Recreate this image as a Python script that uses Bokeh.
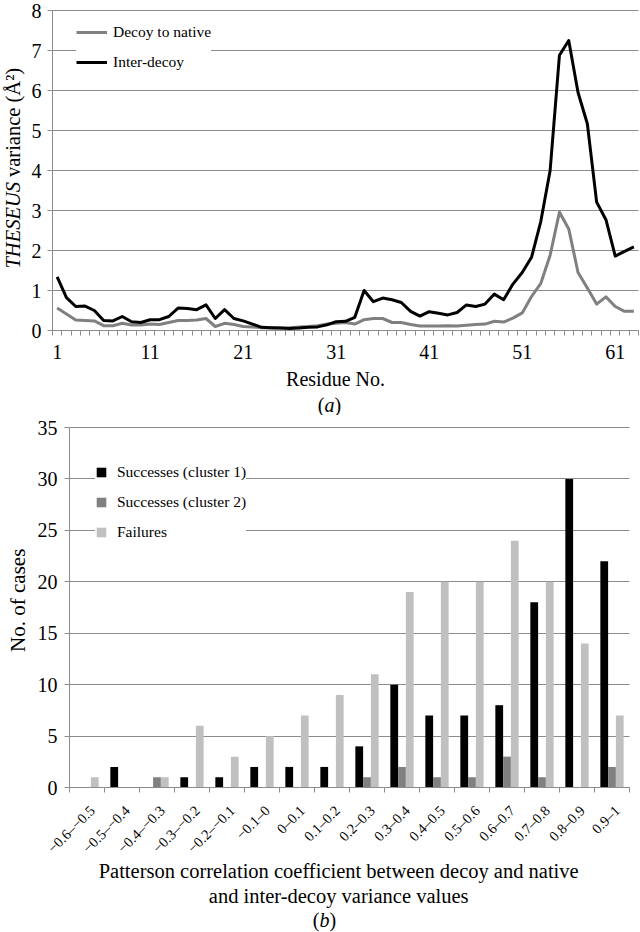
import math

from bokeh.core.properties import value
from bokeh.embed import file_html
from bokeh.layouts import column
from bokeh.models import (ColumnDataSource, FixedTicker, Grid, Label, Legend, LegendItem,
                          LinearAxis, Range1d)
from bokeh.plotting import figure
from bokeh.resources import INLINE

SERIF = "Liberation Serif"
AXIS_GREY = "#8c8c8c"

# ---------------- (a) THESEUS variance per residue ----------------
residues = list(range(1, 64))
decoy_to_native = [
    0.56, 0.41, 0.26, 0.25, 0.24, 0.12, 0.12, 0.18, 0.14, 0.14,
    0.16, 0.15, 0.20, 0.25, 0.25, 0.26, 0.30, 0.10, 0.18, 0.15,
    0.10, 0.09, 0.07, 0.06, 0.06, 0.07, 0.09, 0.10, 0.12, 0.16,
    0.18, 0.20, 0.16, 0.27, 0.30, 0.30, 0.20, 0.20, 0.15, 0.11,
    0.11, 0.11, 0.12, 0.11, 0.13, 0.15, 0.16, 0.23, 0.21, 0.31,
    0.44, 0.85, 1.18, 1.88, 2.96, 2.54, 1.45, 1.06, 0.66, 0.84,
    0.60, 0.48, 0.48,
]
inter_decoy = [
    1.34, 0.82, 0.60, 0.61, 0.50, 0.25, 0.24, 0.35, 0.22, 0.20,
    0.27, 0.27, 0.35, 0.56, 0.55, 0.52, 0.64, 0.30, 0.52, 0.30,
    0.24, 0.16, 0.08, 0.07, 0.06, 0.05, 0.06, 0.08, 0.09, 0.14,
    0.22, 0.23, 0.33, 1.00, 0.72, 0.81, 0.77, 0.70, 0.48, 0.36,
    0.47, 0.43, 0.39, 0.45, 0.64, 0.60, 0.66, 0.91, 0.77, 1.16,
    1.45, 1.83, 2.73, 4.00, 6.88, 7.25, 5.95, 5.17, 3.21, 2.77,
    1.86, 1.98, 2.09,
]
residue_tick_values = [1, 11, 21, 31, 41, 51, 61]
variance_ticks = [0, 1, 2, 3, 4, 5, 6, 7, 8]

# ---------------- (b) correlation histogram ----------------
bins = [
    "\u22120.6\u2013\u22120.5", "\u22120.5\u2013\u22120.4", "\u22120.4\u2013\u22120.3",
    "\u22120.3\u2013\u22120.2", "\u22120.2\u2013\u22120.1", "\u22120.1\u20130",
    "0\u20130.1", "0.1\u20130.2", "0.2\u20130.3", "0.3\u20130.4", "0.4\u20130.5",
    "0.5\u20130.6", "0.6\u20130.7", "0.7\u20130.8", "0.8\u20130.9", "0.9\u20131",
]
successes_cluster1 = [0, 2, 0, 1, 1, 2, 2, 2, 4, 10, 7, 7, 8, 18, 30, 22]
successes_cluster2 = [0, 0, 1, 0, 0, 0, 0, 0, 1, 2, 1, 1, 3, 1, 0, 2]
failures = [1, 0, 1, 6, 3, 5, 7, 9, 11, 19, 20, 20, 24, 20, 14, 7]
count_ticks = [0, 5, 10, 15, 20, 25, 30, 35]


def make_panel(height, x_lo, x_hi, y_lo, y_hi):
    # The plotting frame fills the whole canvas; axes sit at fixed data
    # locations inside it so captions can be placed anywhere around them.
    p = figure(
        width=640, height=height, output_backend="svg", toolbar_location=None,
        x_range=Range1d(x_lo, x_hi), y_range=Range1d(y_lo, y_hi),
        x_axis_location=None, y_axis_location=None,
        min_border=0, min_border_left=0, min_border_right=0,
        min_border_top=0, min_border_bottom=0,
    )
    p.outline_line_color = None
    p.background_fill_color = "white"
    p.border_fill_color = "white"
    for g in p.grid:
        g.visible = False
    return p


def style_axis(ax, tick_size):
    ax.axis_line_color = AXIS_GREY
    ax.axis_line_width = 1
    ax.major_label_text_font = SERIF
    ax.major_label_text_color = "black"
    ax.major_label_text_font_size = tick_size
    ax.minor_tick_line_color = None


def text_label(p, x, y, text, size, style="normal", angle=0.0, align="center"):
    p.add_layout(Label(
        x=x, y=y, text=text, angle=angle,
        text_font=SERIF, text_font_size=size, text_font_style=style,
        text_color="black", text_align=align, text_baseline="middle",
    ))


# ---- panel (a) ----
# frame: residue 0.5 -> 52 px, 63.5 -> 638 px; variance 0 -> 330 px, 8 -> 10 px
TOP_H = 415
FRAME_TOP = 10
xs = 586 / 63.0
ys = (330 - FRAME_TOP) / 8.0
top = make_panel(TOP_H, 0.5 - 52 / xs, 63.5 + 2 / xs, -(TOP_H - 330) / ys, 8 + FRAME_TOP / ys)


def top_y_at(py):
    """Data y for a pixel row of panel (a)."""
    return (330 - py) / ys


top.add_layout(Grid(dimension=1, ticker=FixedTicker(ticks=variance_ticks),
                    cross_bounds=(0.5, 63.5), grid_line_color=AXIS_GREY,
                    grid_line_width=1))

top_x = LinearAxis(fixed_location=0, bounds=(0.5, 63.5))
style_axis(top_x, "20px")
top_x.ticker = FixedTicker(
    ticks=residue_tick_values,
    minor_ticks=[r - 0.5 for r in residues] + [residues[-1] + 0.5],
)
top_x.major_tick_line_color = None
top_x.major_tick_in = 0
top_x.major_tick_out = 5
top_x.major_label_standoff = 9
top_x.minor_tick_line_color = AXIS_GREY
top_x.minor_tick_in = 0
top_x.minor_tick_out = 5
top.add_layout(top_x, "below")

top_y = LinearAxis(fixed_location=0.5, bounds=(0, 8))
style_axis(top_y, "20px")
top_y.ticker = FixedTicker(ticks=variance_ticks)
top_y.major_tick_line_color = AXIS_GREY
top_y.major_tick_in = 0
top_y.major_tick_out = 5
top_y.major_label_standoff = 6
top.add_layout(top_y, "left")

r_native = top.line(residues, decoy_to_native, line_color="#808080", line_width=3,
                    line_join="round")
r_inter = top.line(residues, inter_decoy, line_color="black", line_width=3,
                   line_join="round")

top.add_layout(Legend(
    items=[LegendItem(label="Decoy to native", renderers=[r_native]),
           LegendItem(label="Inter-decoy", renderers=[r_inter])],
    location=(76, 343), orientation="vertical",
    label_text_font=SERIF, label_text_font_size="15.5px", label_text_color="black",
    glyph_width=31, glyph_height=20, label_height=20, label_standoff=6,
    spacing=10, padding=9, margin=0,
    border_line_color=None, background_fill_color="white", background_fill_alpha=1.0,
))

# y title: italic program name followed by upright unit text, read bottom-to-top
text_label(top, -3.80, top_y_at(181.5), "THESEUS", "20.5px", style="italic",
           angle=math.pi / 2, align="right")
text_label(top, -3.80, top_y_at(176.5), "variance (\u00c5\u00b2)", "20.5px",
           angle=math.pi / 2, align="left")
text_label(top, 30.93, top_y_at(378), "Residue No.", "20px")
text_label(top, 29.74, top_y_at(404), "(", "20px", align="right")
text_label(top, 29.74, top_y_at(404), "a", "20px", style="italic", align="left")
text_label(top, 30.82, top_y_at(404), ")", "20px", align="left")

# ---- panel (b) ----
# frame: bin 0 -> 69 px, 16 -> 629 px; count 0 -> 372 px, 35 -> 12 px
BOT_H = 932 - TOP_H
TOP_PAD = 427 - TOP_H
bx = 560 / 16.0
by = 360 / 35.0
bottom = make_panel(BOT_H, -69 / bx, 16 + 11 / bx,
                    -(BOT_H - TOP_PAD - 360) / by, 35 + TOP_PAD / by)

bottom.add_layout(Grid(dimension=1, ticker=FixedTicker(ticks=count_ticks),
                       cross_bounds=(0, len(bins)), grid_line_color=AXIS_GREY,
                       grid_line_width=1))

centers = [i + 0.5 for i in range(len(bins))]
bot_x = LinearAxis(fixed_location=0, bounds=(0, len(bins)))
style_axis(bot_x, "14px")
bot_x.ticker = FixedTicker(ticks=[], minor_ticks=list(range(len(bins) + 1)))
bot_x.major_tick_line_color = None
bot_x.minor_tick_line_color = AXIS_GREY
bot_x.minor_tick_in = 0
bot_x.minor_tick_out = 5
bottom.add_layout(bot_x, "below")

# bin names, slanted at 45 degrees and ending just under each bin
bin_names = ColumnDataSource(dict(x=[c + 0.15 for c in centers],
                                  y=[-2.0] * len(bins), name=bins))
bottom.text(x="x", y="y", text="name", source=bin_names,
            angle=45, angle_units="deg", text_align="right", text_baseline="middle",
            text_font=value(SERIF), text_font_size=value("14.5px"), text_color="black")

bot_y = LinearAxis(fixed_location=0, bounds=(0, 35))
style_axis(bot_y, "20px")
bot_y.ticker = FixedTicker(ticks=count_ticks)
bot_y.major_tick_line_color = AXIS_GREY
bot_y.major_tick_in = 0
bot_y.major_tick_out = 5
bot_y.major_label_standoff = 7
bottom.add_layout(bot_y, "left")

bar_w = 0.222
series = [
    ("Successes (cluster 1)", successes_cluster1, "black", -bar_w),
    ("Successes (cluster 2)", successes_cluster2, "#808080", 0.0),
    ("Failures", failures, "#c0c0c0", bar_w),
]
items = []
for name, vals, color, offset in series:
    r = bottom.vbar(x=[c + offset for c in centers], top=vals, width=bar_w,
                    fill_color=color, line_color=None)
    items.append(LegendItem(label=name, renderers=[r]))

bottom.add_layout(Legend(
    items=items, location=(95, 390), orientation="vertical",
    label_text_font=SERIF, label_text_font_size="15.5px", label_text_color="black",
    glyph_width=12, glyph_height=12, label_height=20, label_standoff=10,
    spacing=10, padding=11, margin=0,
    border_line_color=None, background_fill_color="white", background_fill_alpha=1.0,
))

text_label(bottom, -1.46, 18.2, "No. of cases", "21px", angle=math.pi / 2)
text_label(bottom, 7.69, -8.07, "Patterson correlation coefficient between decoy and native", "20.5px")
text_label(bottom, 7.69, -10.5, "and inter-decoy variance values", "20.5px")
text_label(bottom, 7.14, -12.93, "(", "20px", align="right")
text_label(bottom, 7.14, -12.93, "b", "20px", style="italic", align="left")
text_label(bottom, 7.43, -12.93, ")", "20px", align="left")

layout = column(top, bottom, spacing=0)
open("out.html", "w").write(file_html(layout, INLINE))
